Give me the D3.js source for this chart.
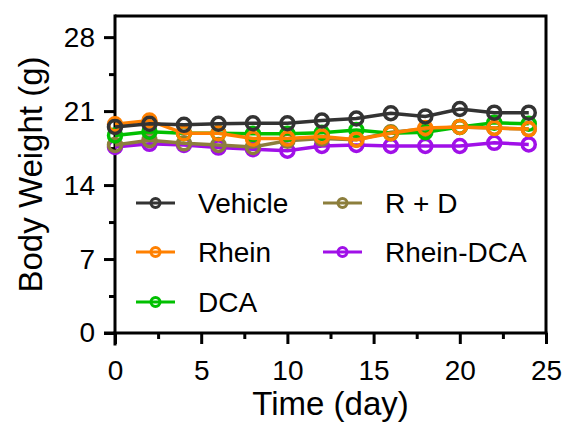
<!DOCTYPE html>
<html>
<head>
<meta charset="utf-8">
<script src="https://cdn.jsdelivr.net/npm/d3@7"></script>
<style>
  body { margin: 0; background: #fff; }
  text { font-family: "Liberation Sans", Arial, sans-serif; fill: #000; }
</style>
</head>
<body>
<div id="chart"></div>
<script>
// days of measurement
var days = [0, 2, 4, 6, 8, 10, 12, 14, 16, 18, 20, 22, 24];

// body weight (g) per group
var vehicle  = [19.5, 19.8, 19.7, 19.8, 19.85, 19.85, 20.1, 20.3, 20.8, 20.5, 21.2, 20.85, 20.85];
var rhein    = [19.75, 20.1, 18.9, 18.9, 18.4, 18.4, 18.6, 18.3, 18.9, 19.4, 19.5, 19.4, 19.3];
var dca      = [18.7, 19.05, 18.9, 18.9, 18.85, 18.85, 18.95, 19.2, 18.9, 19.0, 19.5, 19.9, 19.8];
var rd       = [17.8, 18.25, 17.95, 17.8, 17.6, 18.2, 18.4, 18.3, 19.0, 19.3, 19.5, 19.4, 19.3];
var rheinDca = [17.6, 17.9, 17.8, 17.55, 17.4, 17.25, 17.7, 17.8, 17.7, 17.7, 17.7, 18.0, 17.85];

var seriesNames = ["Vehicle", "Rhein", "DCA", "R + D", "Rhein-DCA"];
var colors = ["#333333", "#ff8000", "#00c000", "#8c7e3c", "#a010e8"];

var yTicks = [0, 7, 14, 21, 28];
var xTicks = [0, 5, 10, 15, 20, 25];

var series = [vehicle, rhein, dca, rd, rheinDca].map(function(vals, i) {
  return {name: seriesNames[i], color: colors[i],
          values: vals.map(function(v, j) { return {day: days[j], w: v}; })};
});

var W = 568, H = 430;
var margin = {top: 16, right: 22, bottom: 97, left: 115};
var width = W - margin.left - margin.right,
    height = H - margin.top - margin.bottom;

var svg = d3.select("#chart")
  .append("svg")
    .attr("width", W)
    .attr("height", H)
  .append("g")
    .attr("transform", "translate(" + margin.left + "," + margin.top + ")");

var x = d3.scaleLinear().domain([0, 25]).range([0, width]);
var y = d3.scaleLinear().domain([0, 30]).range([height, 0]);

// frame (top and right)
svg.append("path")
  .attr("d", "M0,0H" + width + "V" + height)
  .attr("fill", "none")
  .attr("stroke", "#000")
  .attr("stroke-width", 3);

// minor ticks
var xMinor = svg.append("g")
  .attr("transform", "translate(0," + height + ")")
  .call(d3.axisBottom(x).tickValues([2.5, 7.5, 12.5, 17.5, 22.5]).tickSize(6).tickFormat(""));
var yMinor = svg.append("g")
  .call(d3.axisLeft(y).tickValues([3.5, 10.5, 17.5, 24.5]).tickSize(6).tickFormat(""));

// major axes
var xAxis = svg.append("g")
  .attr("transform", "translate(0," + height + ")")
  .call(d3.axisBottom(x).tickValues(xTicks).tickSize(11).tickSizeOuter(0).tickPadding(16));
var yAxis = svg.append("g")
  .call(d3.axisLeft(y).tickValues(yTicks).tickSize(11).tickSizeOuter(0).tickPadding(9));

[xMinor, yMinor, xAxis, yAxis].forEach(function(a) {
  a.selectAll("path, line").attr("stroke", "#000").attr("stroke-width", 3);
  a.selectAll("path.domain").attr("stroke-linecap", "square");
  a.selectAll("text").style("font-size", "28px").attr("fill", "#000");
});
xMinor.select(".domain").remove();
yMinor.select(".domain").remove();
// extend axis lines past the origin like the original
xAxis.select(".domain").attr("d", "M0,0H" + width);
yAxis.select(".domain").attr("d", "M0," + (height + 11) + "V0");
svg.append("line").attr("x1", -11).attr("x2", 0).attr("y1", height).attr("y2", height)
  .attr("stroke", "#000").attr("stroke-width", 3);

// axis titles
svg.append("text")
  .attr("x", width / 2)
  .attr("y", height + 82)
  .attr("text-anchor", "middle")
  .style("font-size", "33px")
  .text("Time (day)");
svg.append("text")
  .attr("transform", "translate(" + (-73) + "," + (height / 2) + ") rotate(-90)")
  .attr("text-anchor", "middle")
  .style("font-size", "33px")
  .text("Body Weight (g)");

// lines and markers (first series on top)
var line = d3.line()
  .x(function(d) { return x(d.day); })
  .y(function(d) { return y(d.w); });

series.slice().reverse().forEach(function(s) {
  var g = svg.append("g");
  g.append("path")
    .datum(s.values)
    .attr("d", line)
    .attr("fill", "none")
    .attr("stroke", s.color)
    .attr("stroke-width", 3.5);
  g.selectAll("circle")
    .data(s.values)
    .enter().append("circle")
      .attr("cx", function(d) { return x(d.day); })
      .attr("cy", function(d) { return y(d.w); })
      .attr("r", 6.5)
      .attr("fill", "none")
      .attr("stroke", s.color)
      .attr("stroke-width", 3.5);
});

// legend
var legendPos = [[21, 187], [21, 236], [21, 286], [208, 187], [208, 236]];
series.forEach(function(s, i) {
  var lg = svg.append("g")
    .attr("transform", "translate(" + legendPos[i][0] + "," + legendPos[i][1] + ")");
  lg.append("line").attr("x1", 0).attr("x2", 39)
    .attr("stroke", s.color).attr("stroke-width", 3);
  lg.append("circle").attr("cx", 19.5).attr("cy", 0).attr("r", 4.5)
    .attr("fill", "none").attr("stroke", s.color).attr("stroke-width", 3);
  lg.append("text").attr("x", 62).attr("y", 0).attr("dy", "0.35em")
    .style("font-size", "28px")
    .text(s.name);
});
</script>
</body>
</html>
